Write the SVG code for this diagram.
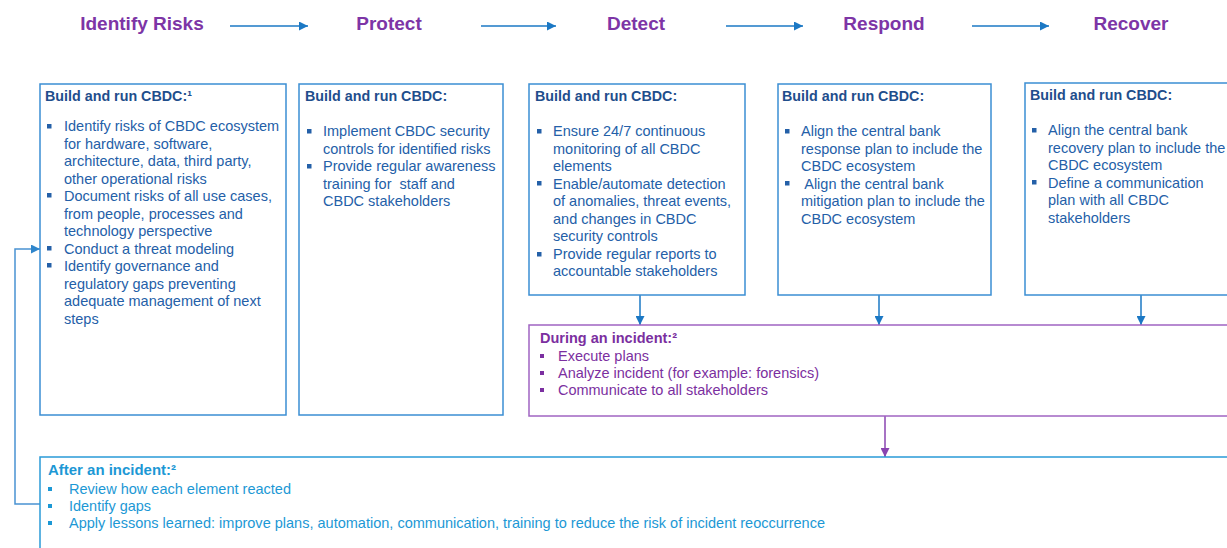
<svg xmlns="http://www.w3.org/2000/svg" width="1227" height="548" viewBox="0 0 1227 548">
<style>
.title{font-family:"Liberation Sans",Arial,sans-serif;font-weight:bold;font-size:19px;fill:#7D35A6;text-anchor:middle}
.bx{fill:#fff;stroke:#3B8ED3;stroke-width:1.5}
.pbx{fill:#fff;stroke:#A064C2;stroke-width:1.5}
.abx{fill:#fff;stroke:#2A9AD8;stroke-width:1.5}
.hd{font-family:"Liberation Sans",Arial,sans-serif;font-weight:bold;font-size:14.3px;fill:#1F4E8C}
.tx{font-family:"Liberation Sans",Arial,sans-serif;font-size:14.5px;fill:#2460A8;white-space:pre}
.bl{fill:#2460A8}
.phd{font-family:"Liberation Sans",Arial,sans-serif;font-weight:bold;font-size:15px;fill:#7B2FA0}
.ptx{font-family:"Liberation Sans",Arial,sans-serif;font-size:15px;fill:#7B2FA0}
.pbl{fill:#7B2FA0}
.ahd{font-family:"Liberation Sans",Arial,sans-serif;font-weight:bold;font-size:15px;fill:#1C98D5}
.atx{font-family:"Liberation Sans",Arial,sans-serif;font-size:15px;fill:#1C98D5}
.abl{fill:#1C98D5}
.conn{fill:none;stroke:#1B78C4;stroke-width:1.5}
.pconn{fill:none;stroke:#8A44B0;stroke-width:1.5}
.fconn{fill:none;stroke:#4A92D2;stroke-width:1.5}
</style>
<defs>
<marker id="ab" viewBox="0 0 10 10" refX="10" refY="5" markerWidth="6" markerHeight="6" orient="auto" markerUnits="strokeWidth"><path d="M0,0 L10,5 L0,10 z" fill="#1B78C4"/></marker>
<marker id="ap" viewBox="0 0 10 10" refX="10" refY="5" markerWidth="6" markerHeight="6" orient="auto" markerUnits="strokeWidth"><path d="M0,0 L10,5 L0,10 z" fill="#8A44B0"/></marker>
<marker id="af" viewBox="0 0 10 10" refX="10" refY="5" markerWidth="6" markerHeight="6" orient="auto" markerUnits="strokeWidth"><path d="M0,0 L10,5 L0,10 z" fill="#2F86CC"/></marker>
</defs>
<rect width="1227" height="548" fill="#fff"/>

<g id="titles">
<text class="title" x="142" y="30">Identify Risks</text>
<text class="title" x="389" y="30">Protect</text>
<text class="title" x="636" y="30">Detect</text>
<text class="title" x="884" y="30">Respond</text>
<text class="title" x="1131" y="30">Recover</text>
</g>

<g id="connectors">
<path class="conn" d="M230,26 H308" marker-end="url(#ab)"/>
<path class="conn" d="M481,26 H556" marker-end="url(#ab)"/>
<path class="conn" d="M726,26 H803" marker-end="url(#ab)"/>
<path class="conn" d="M972,26 H1049" marker-end="url(#ab)"/>
<path class="conn" d="M640,295 V325" marker-end="url(#ab)"/>
<path class="conn" d="M879,295 V325" marker-end="url(#ab)"/>
<path class="conn" d="M1141,295 V325" marker-end="url(#ab)"/>
<path class="pconn" d="M885,416 V457" marker-end="url(#ap)"/>
<path class="fconn" d="M40,504 H15 V249 H40" marker-end="url(#af)"/>
</g>

<g id="identify">
<rect class="bx" x="40" y="84" width="246" height="331"/>
<text class="hd" x="45" y="101">Build and run CBDC:¹</text>
<rect class="bl" x="47" y="124" width="4.5" height="4.5"/>
<rect class="bl" x="47" y="193" width="4.5" height="4.5"/>
<rect class="bl" x="47" y="246" width="4.5" height="4.5"/>
<rect class="bl" x="47" y="263" width="4.5" height="4.5"/>
<text class="tx" x="64" y="131">Identify risks of CBDC ecosystem</text>
<text class="tx" x="64" y="148.5">for hardware, software,</text>
<text class="tx" x="64" y="166">architecture, data, third party,</text>
<text class="tx" x="64" y="183.5">other operational risks</text>
<text class="tx" x="64" y="201">Document risks of all use cases,</text>
<text class="tx" x="64" y="218.5">from people, processes and</text>
<text class="tx" x="64" y="236">technology perspective</text>
<text class="tx" x="64" y="253.5">Conduct a threat modeling</text>
<text class="tx" x="64" y="271">Identify governance and</text>
<text class="tx" x="64" y="288.5">regulatory gaps preventing</text>
<text class="tx" x="64" y="306">adequate management of next</text>
<text class="tx" x="64" y="323.5">steps</text>
</g>

<g id="protect">
<rect class="bx" x="299" y="84" width="204" height="331"/>
<text class="hd" x="305" y="101">Build and run CBDC:</text>
<rect class="bl" x="307" y="129" width="4.5" height="4.5"/>
<rect class="bl" x="307" y="164" width="4.5" height="4.5"/>
<text class="tx" x="323" y="136">Implement CBDC security</text>
<text class="tx" x="323" y="153.5">controls for identified risks</text>
<text class="tx" x="323" y="171">Provide regular awareness</text>
<text class="tx" x="323" y="188.5" xml:space="preserve">training for  staff and</text>
<text class="tx" x="323" y="206">CBDC stakeholders</text>
</g>

<g id="detect">
<rect class="bx" x="529" y="84" width="216" height="211"/>
<text class="hd" x="535" y="101">Build and run CBDC:</text>
<rect class="bl" x="537" y="129" width="4.5" height="4.5"/>
<rect class="bl" x="537" y="181" width="4.5" height="4.5"/>
<rect class="bl" x="537" y="252" width="4.5" height="4.5"/>
<text class="tx" x="553" y="136">Ensure 24/7 continuous</text>
<text class="tx" x="553" y="153.5">monitoring of all CBDC</text>
<text class="tx" x="553" y="171">elements</text>
<text class="tx" x="553" y="188.5">Enable/automate detection</text>
<text class="tx" x="553" y="206">of anomalies, threat events,</text>
<text class="tx" x="553" y="223.5">and changes in CBDC</text>
<text class="tx" x="553" y="241">security controls</text>
<text class="tx" x="553" y="258.5">Provide regular reports to</text>
<text class="tx" x="553" y="276">accountable stakeholders</text>
</g>

<g id="respond">
<rect class="bx" x="778" y="84" width="213" height="211"/>
<text class="hd" x="782" y="101">Build and run CBDC:</text>
<rect class="bl" x="785" y="129" width="4.5" height="4.5"/>
<rect class="bl" x="785" y="181" width="4.5" height="4.5"/>
<text class="tx" x="801" y="136">Align the central bank</text>
<text class="tx" x="801" y="153.5">response plan to include the</text>
<text class="tx" x="801" y="171">CBDC ecosystem</text>
<text class="tx" x="801" y="188.5" xml:space="preserve"> Align the central bank</text>
<text class="tx" x="801" y="206">mitigation plan to include the</text>
<text class="tx" x="801" y="223.5">CBDC ecosystem</text>
</g>

<g id="recover">
<rect class="bx" x="1025" y="83" width="215" height="212"/>
<text class="hd" x="1030" y="100">Build and run CBDC:</text>
<rect class="bl" x="1032" y="128" width="4.5" height="4.5"/>
<rect class="bl" x="1032" y="180" width="4.5" height="4.5"/>
<text class="tx" x="1048" y="135">Align the central bank</text>
<text class="tx" x="1048" y="152.5">recovery plan to include the</text>
<text class="tx" x="1048" y="170">CBDC ecosystem</text>
<text class="tx" x="1048" y="187.5">Define a communication</text>
<text class="tx" x="1048" y="205">plan with all CBDC</text>
<text class="tx" x="1048" y="222.5">stakeholders</text>
</g>

<g id="during">
<rect class="pbx" x="529" y="325" width="710" height="91"/>
<text class="phd" x="540" y="343" textLength="137" lengthAdjust="spacingAndGlyphs">During an incident:²</text>
<rect class="pbl" x="540" y="354" width="4" height="4"/>
<rect class="pbl" x="540" y="371" width="4" height="4"/>
<rect class="pbl" x="540" y="388" width="4" height="4"/>
<text class="ptx" x="558" y="361" textLength="91" lengthAdjust="spacingAndGlyphs">Execute plans</text>
<text class="ptx" x="558" y="378" textLength="261" lengthAdjust="spacingAndGlyphs">Analyze incident (for example: forensics)</text>
<text class="ptx" x="558" y="395" textLength="210" lengthAdjust="spacingAndGlyphs">Communicate to all stakeholders</text>
</g>

<g id="after">
<rect class="abx" x="40" y="457" width="1200" height="110"/>
<text class="ahd" x="48" y="475" textLength="128" lengthAdjust="spacingAndGlyphs">After an incident:²</text>
<rect class="abl" x="48" y="487" width="4" height="4"/>
<rect class="abl" x="48" y="504" width="4" height="4"/>
<rect class="abl" x="48" y="521" width="4" height="4"/>
<text class="atx" x="69" y="494" textLength="222" lengthAdjust="spacingAndGlyphs">Review how each element reacted</text>
<text class="atx" x="69" y="511" textLength="82" lengthAdjust="spacingAndGlyphs">Identify gaps</text>
<text class="atx" x="69" y="528" textLength="756" lengthAdjust="spacingAndGlyphs">Apply lessons learned: improve plans, automation, communication, training to reduce the risk of incident reoccurrence</text>
</g>
</svg>
